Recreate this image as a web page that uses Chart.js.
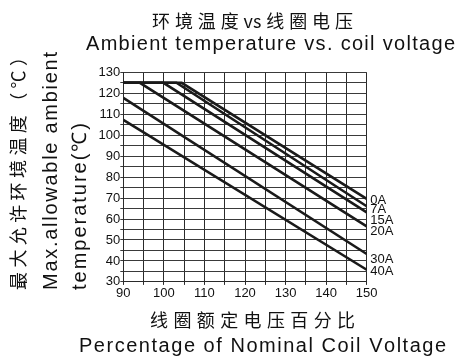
<!DOCTYPE html>
<html>
<head>
<meta charset="utf-8">
<script src="https://cdn.jsdelivr.net/npm/chart.js@4"></script>
<style>
  html, body { margin: 0; padding: 0; background: #fff; }
  #chart { display: block; }
</style>
</head>
<body>
<canvas id="chart" width="466" height="356"></canvas>
<script>
// corrientes de bobina (una linea por cada una)
const currents = ['0A', '7A', '15A', '20A', '30A', '40A'];
// % de tension nominal
const voltX = [
  [90, 104.4, 150],
  [90, 103.1, 150],
  [90, 99.9, 150],
  [90, 94.1, 150],
  [90, 150],
  [90, 150]
];
// temperatura ambiente maxima
const tempY = [
  [125, 125, 69.6],
  [125, 125, 66.1],
  [125, 125, 63.2],
  [125, 125, 56.5],
  [117.8, 43.3],
  [107.3, 35.8]
];
// donde va la etiqueta de cada linea (eje y)
const labelTemp = [68.8, 64.4, 59.1, 54.1, 40.9, 35.2];
const xMin = 90, xMax = 150, yMin = 30, yMax = 130;

const datasets = currents.map((c, i) => ({
  label: c,
  data: voltX[i].map((x, j) => ({ x: x, y: tempY[i][j] })),
  borderColor: '#1a1a1a',
  borderWidth: 2.6,
  pointRadius: 0,
  tension: 0
}));

// texto con espaciado para llenar un ancho dado
// (si hay caracteres chinos, el espacio extra solo va junto a ellos)
function fitText(ctx, text, x, y, width, font, baseline) {
  ctx.font = font;
  ctx.letterSpacing = '0px';
  ctx.textAlign = 'left';
  ctx.textBaseline = baseline || 'alphabetic';
  const chars = [...text];
  const w0 = ctx.measureText(text).width;
  const wide = ch => ch.charCodeAt(0) >= 0x2E80;
  const hayCjk = chars.some(wide);
  const conGap = i => !hayCjk || wide(chars[i]) || wide(chars[i + 1]);
  let gaps = 0;
  for (let i = 0; i < chars.length - 1; i++) {
    if (conGap(i)) gaps++;
  }
  const ls = gaps > 0 ? (width - w0) / gaps : 0;
  let cx = x;
  for (let i = 0; i < chars.length; i++) {
    ctx.fillText(chars[i], cx, y);
    cx += ctx.measureText(chars[i]).width;
    if (i < chars.length - 1 && conGap(i)) cx += ls;
  }
}

const textos = {
  id: 'textos',
  afterDraw(chart) {
    const ctx = chart.ctx;
    const cjk = '"Noto Sans CJK SC"';
    const lat = '"Liberation Sans", Arial';
    ctx.save();
    ctx.fillStyle = '#111';

    fitText(ctx, '环境温度vs线圈电压', 152, 21.5, 201, '18px ' + cjk, 'middle');
    fitText(ctx, 'Ambient temperature vs. coil voltage', 86, 50, 369, '20px ' + lat);
    fitText(ctx, '线圈额定电压百分比', 150, 320, 205, '18px ' + cjk, 'middle');
    fitText(ctx, 'Percentage of Nominal Coil Voltage', 79, 352, 366, '20px ' + lat);

    // titulo eje y (rotado)
    const ejeY = [
      ['最大允许环境温度（℃）', 18, 242, '18px ' + cjk, 'middle'],
      ['Max.allowable ambient', 57, 238, '20px ' + lat, 'alphabetic'],
      ['temperature(℃)', 86, 167, '20px ' + lat, 'alphabetic']
    ];
    ejeY.forEach(t => {
      ctx.save();
      ctx.translate(t[1], 290);
      ctx.rotate(-Math.PI / 2);
      fitText(ctx, t[0], 0, 0, t[2], t[3], t[4]);
      ctx.restore();
    });

    // etiquetas de corriente a la derecha
    ctx.font = '13px ' + lat;
    ctx.textAlign = 'left';
    ctx.textBaseline = 'middle';
    currents.forEach((c, i) => {
      ctx.fillText(c, chart.chartArea.right + 3.5, chart.scales.y.getPixelForValue(labelTemp[i]));
    });
    ctx.restore();
  }
};

const ctx = document.getElementById('chart').getContext('2d');
new Chart(ctx, {
  type: 'line',
  data: { datasets: datasets },
  options: {
    responsive: false,
    animation: false,
    devicePixelRatio: 1,
    layout: { padding: { top: 72.3, right: 99.3, left: 0, bottom: 0 } },
    plugins: {
      legend: { display: false },
      tooltip: { enabled: false }
    },
    scales: {
      x: {
        type: 'linear',
        min: xMin,
        max: xMax,
        afterFit: s => { s.height = 74.1; },
        grid: { color: '#2a2a2a', lineWidth: 1, tickLength: 3 },
        border: { color: '#2a2a2a', width: 1 },
        ticks: {
          stepSize: 5,
          padding: 1,
          color: '#111',
          font: { family: '"Liberation Sans", Arial', size: 13 },
          maxRotation: 0,
          autoSkip: false,
          callback: v => (v % 10 === 0 ? v : '')
        }
      },
      y: {
        min: yMin,
        max: yMax,
        afterFit: s => { s.width = 123.3; },
        grid: { color: '#3a3a3a', lineWidth: 1, tickLength: 3 },
        border: { color: '#2a2a2a', width: 1 },
        ticks: {
          stepSize: 5,
          padding: 0,
          color: '#111',
          font: { family: '"Liberation Sans", Arial', size: 13 },
          autoSkip: false,
          callback: v => (v % 10 === 0 ? v : '')
        }
      }
    }
  },
  plugins: [textos]
});
</script>
</body>
</html>
